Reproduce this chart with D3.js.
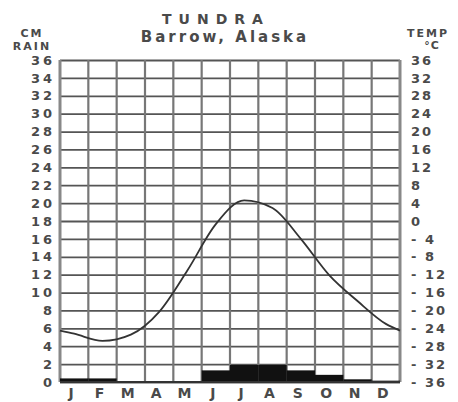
<!DOCTYPE html>
<html>
<head>
<meta charset="utf-8">
<script src="https://cdn.jsdelivr.net/npm/d3@7"></script>
<style>
  body { margin: 0; background: #fff; }
  text { font-family: "DejaVu Sans", sans-serif; font-weight: bold; fill: #4a4a4a; }
</style>
</head>
<body>
<svg id="chart" width="458" height="402"></svg>
<script>
// chart data
var months = ["J", "F", "M", "A", "M", "J", "J", "A", "S", "O", "N", "D"];
var rainCm = [0.4, 0.4, 0, 0, 0, 1.3, 1.9, 1.9, 1.3, 0.8, 0.3, 0.15];
var tempC = [-25.2, -26.8, -25.4, -20.3, -11, -0.7, 4.6, 2.9, -4, -12.1, -17.9, -23];
var yearEdgeTemp = -24.5; // where the curve meets the left and right border
var rainTicks = d3.range(0, 37, 2);
var tempTicks = d3.range(-36, 37, 4);

var margin = {"left": 60, "right": 58, "top": 60, "bottom": 20};
var width = 458, height = 402;

var svg = d3.select("#chart");

var x = d3.scaleBand()
          .domain(d3.range(months.length))
          .range([margin.left, width - margin.right]);

// position along the year, 0 = start of Jan, 12 = end of Dec
var xYear = d3.scaleLinear().domain([0, 12]).range([margin.left, width - margin.right]);

var yRain = d3.scaleLinear().domain([0, 36]).range([height - margin.bottom, margin.top]);
var yTemp = d3.scaleLinear().domain([-36, 36]).range([height - margin.bottom, margin.top]);

/*
// grid: horizontal line every 2 cm, vertical line every month
*/
svg.append("g")
   .attr("transform", "translate(" + margin.left + ",0)")
   .call(d3.axisLeft(yRain).tickValues(rainTicks).tickSize(-(width - margin.left - margin.right)).tickFormat(""))
   .call(function(g) { g.select(".domain").remove(); })
   .selectAll("line")
   .attr("stroke", "#555")
   .attr("stroke-width", 1.8);

svg.append("g")
   .selectAll("line")
   .data(d3.range(months.length + 1))
   .enter().append("line")
   .attr("x1", function(d) { return xYear(d); })
   .attr("x2", function(d) { return xYear(d); })
   .attr("y1", yRain(36))
   .attr("y2", yRain(0))
   .attr("stroke", function(d) { return (d == 0 || d == 12) ? "#888" : "#777"; })
   .attr("stroke-width", function(d) { return (d == 0 || d == 12) ? 3 : 2.2; });

/*
// rainfall bars
*/
svg.append("g")
   .selectAll("rect")
   .data(rainCm)
   .enter().append("rect")
   .attr("x", function(d, i) { return x(i); })
   .attr("width", x.bandwidth())
   .attr("y", function(d) { return yRain(d); })
   .attr("height", function(d) { return yRain(0) - yRain(d); })
   .attr("fill", "#111");

// bottom line
svg.append("line")
   .attr("x1", xYear(0)).attr("x2", xYear(12))
   .attr("y1", yRain(0)).attr("y2", yRain(0))
   .attr("stroke", "#333").attr("stroke-width", 2);

/*
// temperature curve
*/
var tempPoints = [[0, yearEdgeTemp]];
tempC.forEach(function(t, i) { tempPoints.push([i + 0.5, t]); });
tempPoints.push([12, yearEdgeTemp]);

var line = d3.line()
             .x(function(d) { return xYear(d[0]); })
             .y(function(d) { return yTemp(d[1]); })
             .curve(d3.curveMonotoneX);

svg.append("path")
   .datum(tempPoints)
   .attr("d", line)
   .attr("fill", "none")
   .attr("stroke", "#333")
   .attr("stroke-width", 1.8);

/*
// axis labels
*/
var leftAxis = svg.append("g")
   .attr("transform", "translate(" + 55 + ",0)")
   .call(d3.axisLeft(yRain).tickValues(rainTicks).tickSize(0).tickPadding(0));
leftAxis.select(".domain").remove();
leftAxis.selectAll("text")
        .attr("font-family", null)
        .style("font-size", "13px")
        .style("letter-spacing", "3px");

var rightAxis = svg.append("g")
   .attr("transform", "translate(" + 411 + ",0)")
   .call(d3.axisRight(yTemp).tickValues(tempTicks).tickSize(0).tickPadding(0)
           .tickFormat(function(d) { return d < 0 ? "- " + (-d) : d; }));
rightAxis.select(".domain").remove();
rightAxis.selectAll("text")
         .attr("font-family", null)
         .style("font-size", "13px")
         .style("letter-spacing", "2px");

svg.append("g")
   .selectAll("text")
   .data(months)
   .enter().append("text")
   .attr("x", function(d, i) { return x(i) + x.bandwidth() / 2 - 3; })
   .attr("y", 398)
   .attr("text-anchor", "middle")
   .style("font-size", "14px")
   .text(function(d) { return d; });

/*
// titles
*/
svg.append("text").attr("x", 216).attr("y", 24).attr("text-anchor", "middle")
   .style("font-size", "14px").style("letter-spacing", "7px").text("TUNDRA");
svg.append("text").attr("x", 225).attr("y", 42).attr("text-anchor", "middle")
   .style("font-size", "15px").style("letter-spacing", "3px").text("Barrow, Alaska");
svg.append("text").attr("x", 32).attr("y", 37).attr("text-anchor", "middle")
   .style("font-size", "11px").style("letter-spacing", "2px").text("CM");
svg.append("text").attr("x", 32).attr("y", 50).attr("text-anchor", "middle")
   .style("font-size", "11px").style("letter-spacing", "2px").text("RAIN");
svg.append("text").attr("x", 428).attr("y", 37).attr("text-anchor", "middle")
   .style("font-size", "11px").style("letter-spacing", "2px").text("TEMP");
svg.append("text").attr("x", 432).attr("y", 49).attr("text-anchor", "middle")
   .style("font-size", "11px").style("letter-spacing", "1px").text("°C");
</script>
</body>
</html>
